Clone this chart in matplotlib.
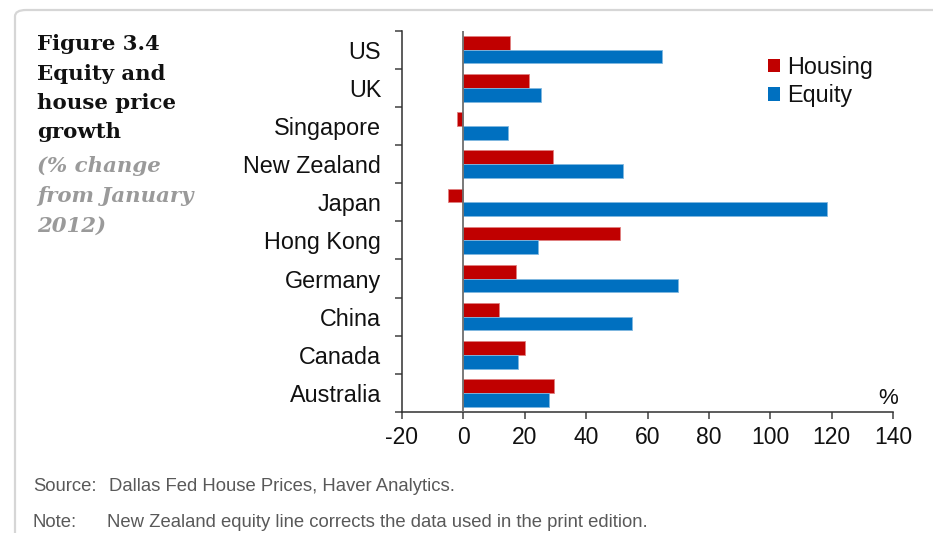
import matplotlib
matplotlib.use("Agg")
import matplotlib.pyplot as plt
from matplotlib.patches import FancyBboxPatch, Patch
import numpy as np

categories = ["US", "UK", "Singapore", "New Zealand", "Japan",
              "Hong Kong", "Germany", "China", "Canada", "Australia"]
housing = [15.1, 21.3, -2.1, 29.2, -5.0, 51.2, 17.1, 11.5, 20.2, 29.4]
equity = [64.6, 25.3, 14.6, 52.0, 118.5, 24.2, 70.0, 55.0, 17.7, 28.0]
xticks = [-20, 0, 20, 40, 60, 80, 100, 120, 140]

RED = "#C00000"
BLUE = "#0070C0"
W, H = 933, 533

fig = plt.figure(figsize=(W / 100, H / 100), dpi=100)
fig.patch.set_facecolor("white")

def fx(px):
    return px / W

def fy(py):
    return 1 - py / H

# outer rounded frame
frame = FancyBboxPatch((fx(15), fy(560)), fx(960) - fx(15), fy(10) - fy(560),
                       boxstyle="round,pad=0,rounding_size=0.012",
                       transform=fig.transFigure, fill=False,
                       edgecolor="#d6d6d6", linewidth=1.6, clip_on=False)
fig.patches.append(frame)

ax = fig.add_axes([fx(402), fy(412), fx(893) - fx(402), fy(30.7) - fy(412)])
n = len(categories)
centers = np.arange(n)[::-1] + 0.5
bh = 0.36
ax.barh(centers + bh / 2, housing, height=bh, color=RED,
        edgecolor="#e08080", linewidth=0.6, label="Housing", zorder=2)
ax.barh(centers - bh / 2, equity, height=bh, color=BLUE,
        edgecolor="#80b8e0", linewidth=0.6, label="Equity", zorder=2)
ax.axvline(0, color="#6e6e6e", linewidth=1.3, zorder=3)

ax.set_xlim(-20, 140)
ax.set_ylim(0, n)
ax.set_xticks(xticks)
ax.set_xticklabels([str(v) for v in xticks])
ax.set_yticks(np.arange(n + 1))
ax.set_yticklabels([])
ax.set_yticks(centers, minor=True)
ax.set_yticklabels(categories, minor=True)

lab_font = "Liberation Sans"
FS = 16.8
ax.tick_params(axis="y", which="major", length=5, width=1.1, color="#404040", direction="out")
ax.tick_params(axis="y", which="minor", length=0, pad=15, labelsize=FS, labelcolor="#111111")
ax.tick_params(axis="x", length=5, width=1.1, color="#404040", direction="out",
               pad=5, labelsize=16.5, labelcolor="#111111")
for lab in ax.get_yticklabels(minor=True) + ax.get_xticklabels():
    lab.set_family(lab_font)

for s in ["top", "right"]:
    ax.spines[s].set_visible(False)
for s in ["left", "bottom"]:
    ax.spines[s].set_color("#303030")
    ax.spines[s].set_linewidth(1.1)

fig.text(fx(888), fy(399), "%", ha="center", va="center", fontsize=16,
         family=lab_font, color="#111111")

handles = [Patch(facecolor=RED, edgecolor="none"), Patch(facecolor=BLUE, edgecolor="none")]
leg = fig.legend(handles, ["Housing", "Equity"], loc="upper left",
                 bbox_to_anchor=(fx(768), fy(56)), frameon=False,
                 handlelength=0.5, handleheight=0.5, handletextpad=0.3,
                 labelspacing=0.22, borderaxespad=0, borderpad=0,
                 prop={"family": lab_font, "size": FS})
for t in leg.get_texts():
    t.set_color("#111111")

# title block
title_lines = ["Figure 3.4", "Equity and", "house price", "growth"]
title_base = [50, 80, 109, 138]
for txt, yb in zip(title_lines, title_base):
    fig.text(fx(37), fy(yb), txt, ha="left", va="baseline", fontsize=15.3,
             family="DejaVu Serif", weight="bold", color="#111111")
sub_lines = ["(% change", "from January", "2012)"]
sub_base = [172, 202, 232]
for txt, yb in zip(sub_lines, sub_base):
    fig.text(fx(37), fy(yb), txt, ha="left", va="baseline", fontsize=15.3,
             family="DejaVu Serif", weight="bold", style="italic", color="#9a9a9a")

foot_font = ["Liberation Sans Narrow", "Liberation Sans"]
FF = 13.3
fig.text(fx(33), fy(491), "Source:", ha="left", va="baseline", fontsize=FF,
         family=foot_font, color="#595959")
fig.text(fx(109), fy(491), "Dallas Fed House Prices, Haver Analytics.", ha="left",
         va="baseline", fontsize=FF, family=foot_font, color="#595959")
fig.text(fx(33), fy(527), "Note:", ha="left", va="baseline", fontsize=FF,
         family=foot_font, color="#595959")
fig.text(fx(107), fy(527), "New Zealand equity line corrects the data used in the print edition.",
         ha="left", va="baseline", fontsize=FF, family=foot_font, color="#595959")

fig.savefig("out.png", dpi=100, facecolor="white")
